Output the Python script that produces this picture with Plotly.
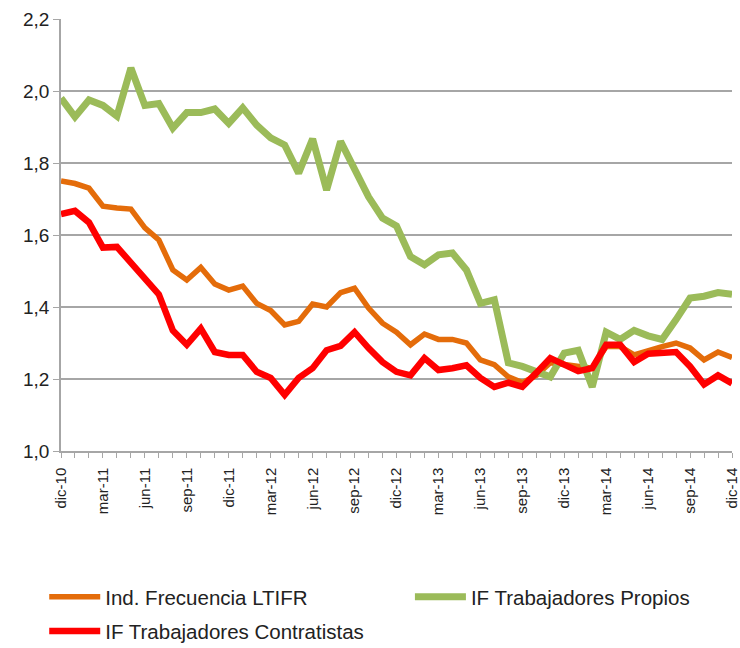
import plotly.graph_objects as go

months = ["dic-10", "ene-11", "feb-11", "mar-11", "abr-11", "may-11", "jun-11", "jul-11", "ago-11", "sep-11",
          "oct-11", "nov-11", "dic-11", "ene-12", "feb-12", "mar-12", "abr-12", "may-12", "jun-12", "jul-12",
          "ago-12", "sep-12", "oct-12", "nov-12", "dic-12", "ene-13", "feb-13", "mar-13", "abr-13", "may-13",
          "jun-13", "jul-13", "ago-13", "sep-13", "oct-13", "nov-13", "dic-13", "ene-14", "feb-14", "mar-14",
          "abr-14", "may-14", "jun-14", "jul-14", "ago-14", "sep-14", "oct-14", "nov-14", "dic-14"]

ltifr = [1.75, 1.743, 1.73, 1.68, 1.675, 1.672, 1.62, 1.586, 1.503, 1.475,
         1.51, 1.464, 1.447, 1.458, 1.41, 1.39, 1.35, 1.36, 1.408, 1.40,
         1.44, 1.452, 1.397, 1.355, 1.33, 1.295, 1.325, 1.31, 1.31, 1.30,
         1.253, 1.24, 1.206, 1.19, 1.21, 1.245, 1.24, 1.235, 1.23, 1.29,
         1.29, 1.267, 1.28, 1.29, 1.30, 1.286, 1.253, 1.275, 1.26]

propios = [1.98, 1.928, 1.975, 1.96, 1.93, 2.064, 1.96, 1.965, 1.897, 1.94,
           1.94, 1.95, 1.91, 1.953, 1.905, 1.87, 1.85, 1.772, 1.867, 1.725,
           1.86, 1.78, 1.706, 1.647, 1.625, 1.54, 1.517, 1.545, 1.55, 1.503,
           1.41, 1.42, 1.245, 1.235, 1.22, 1.206, 1.272, 1.28, 1.178, 1.33,
           1.31, 1.335, 1.32, 1.31, 1.365, 1.425, 1.43, 1.44, 1.435]

contratistas = [1.658, 1.667, 1.635, 1.565, 1.567, 1.525, 1.48, 1.435, 1.335, 1.295,
                1.34, 1.275, 1.267, 1.267, 1.22, 1.203, 1.156, 1.203, 1.23, 1.28,
                1.292, 1.33, 1.286, 1.247, 1.22, 1.21, 1.258, 1.225, 1.23, 1.238,
                1.203, 1.178, 1.19, 1.178, 1.217, 1.258, 1.24, 1.222, 1.23, 1.295,
                1.295, 1.247, 1.27, 1.272, 1.275, 1.235, 1.185, 1.21, 1.188]

names = ["Ind. Frecuencia LTIFR", "IF Trabajadores Propios", "IF Trabajadores Contratistas"]
colors = ["#E46C0A", "#9BBB59", "#FF0000"]
widths = [5.5, 7, 6.5]
legend_ids = ["legend", "legend2", "legend3"]

y_major = [1.0, 1.2, 1.4, 1.6, 1.8, 2.0, 2.2]
y_grid = [1.2, 1.4, 1.6, 1.8, 2.0]

x = list(range(len(months)))
tick_idx = list(range(0, len(months), 3))

fig = go.Figure()
for vals, name, col, w, lg in zip([ltifr, propios, contratistas], names, colors, widths, legend_ids):
    fig.add_trace(go.Scatter(x=x, y=vals, mode="lines", name=name, legend=lg,
                             line=dict(color=col, width=w, shape="linear"),
                             cliponaxis=False))

leg_font = dict(size=20.5, color="#222222", family="Liberation Sans, Arial, sans-serif")
fig.update_layout(
    width=740, height=648,
    margin=dict(l=61, r=8, t=19, b=197, autoexpand=False),
    paper_bgcolor="white", plot_bgcolor="white",
    separators=",.",
    font=dict(family="Liberation Sans, Arial, sans-serif", color="#222222"),
    showlegend=True,
    legend=dict(x=-0.025, xanchor="left", y=-0.338, yanchor="middle", font=leg_font,
                itemwidth=51, bgcolor="rgba(0,0,0,0)"),
    legend2=dict(x=0.52, xanchor="left", y=-0.338, yanchor="middle", font=leg_font,
                 itemwidth=51, bgcolor="rgba(0,0,0,0)"),
    legend3=dict(x=-0.025, xanchor="left", y=-0.417, yanchor="middle", font=leg_font,
                 itemwidth=51, bgcolor="rgba(0,0,0,0)"),
)

fig.update_xaxes(
    range=[0, len(months) - 1], automargin=False,
    tickmode="array", tickvals=tick_idx, ticktext=[months[i] for i in tick_idx],
    tickangle=-90, tickfont=dict(size=15, color="#222222"),
    ticklabeloverflow="allow", ticklabelstandoff=4,
    showline=True, linecolor="#A6A6A6", linewidth=1.5,
    ticks="outside", ticklen=5, tickcolor="#A6A6A6",
    showgrid=False, zeroline=False,
    minor=dict(tickmode="linear", tick0=0, dtick=1, ticks="outside", ticklen=5,
               tickcolor="#A6A6A6", showgrid=False),
)

fig.update_yaxes(
    range=[1.0, 2.2], automargin=False,
    tickmode="array", tickvals=y_major, tickformat=".1f",
    tickfont=dict(size=19, color="#222222"),
    showline=True, linecolor="#A6A6A6", linewidth=1.5,
    ticks="outside", ticklen=6, tickcolor="#A6A6A6",
    showgrid=False, zeroline=False,
    minor=dict(tickmode="array", tickvals=y_grid, ticks="", showgrid=True,
               gridcolor="#A6A6A6", gridwidth=1.5),
)

fig.write_html("out.html", config={"displayModeBar": False},
               post_script="document.body.style.margin='0';document.body.style.overflow='hidden';")
